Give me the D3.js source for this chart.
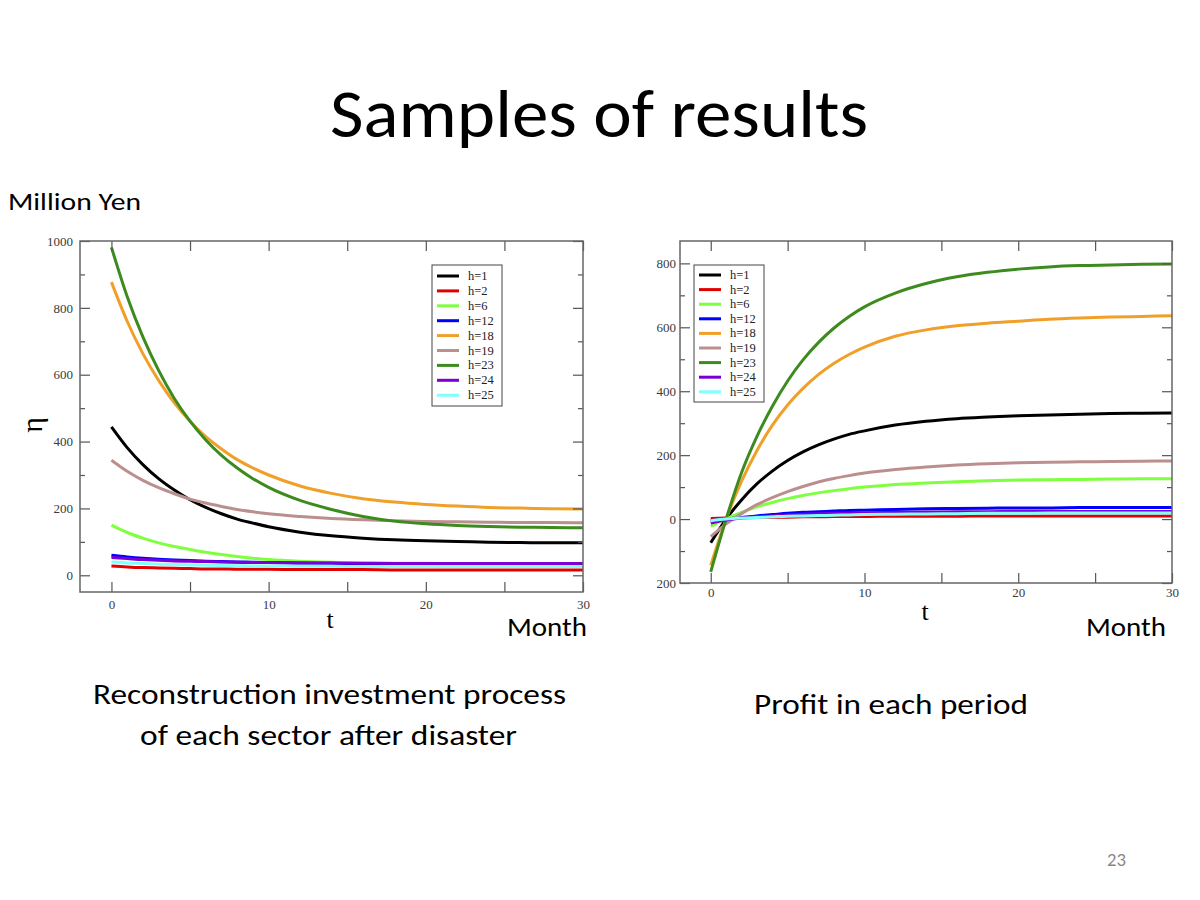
<!DOCTYPE html>
<html>
<head>
<meta charset="utf-8">
<script src="https://cdn.jsdelivr.net/npm/d3@7"></script>
<style>
  html, body { margin: 0; padding: 0; background: #fff; }
  svg { display: block; }
</style>
</head>
<body>
<svg id="slide" width="1200" height="900"></svg>
<script>
// ---------------- DATA ----------------
const tSteps = [0,1,2,3,4,5,6,7,8,9,10,12,14,16,18,20,22,24,26,28,30];
const sectors = ["h=1","h=2","h=6","h=12","h=18","h=19","h=23","h=24","h=25"];
const sectorColors = ["#000000","#e00000","#80ff40","#0000ff","#f0a028","#bc8f8f","#3d8b1f","#7a00d6","#80ffff"];

// Left chart: reconstruction investment eta (Million Yen)
const invest_h1  = [444,382,331,289,255,226,203,184,168,156,145,129,118,111,106,103,101,99,98,97,97];
const invest_h2  = [28,25,23,22,21,20,19,19,18,18,18,17,17,17,16,16,16,16,16,16,16];
const invest_h6  = [150,128,111,97,86,77,69,62,56,51,47,42,39,37,36,36,35,35,35,35,35];
const invest_h12 = [60,55,51,48,46,44,42,41,40,39,38,37,36,35,35,35,35,35,35,35,35];
const invest_h18 = [877,760,663,583,516,461,415,378,346,321,300,267,245,229,219,212,207,203,201,199,198];
const invest_h19 = [344,311,284,262,244,228,216,206,197,190,184,176,170,166,163,161,160,159,158,158,157];
const invest_h23 = [981,834,713,613,529,461,405,359,321,289,263,224,197,176,162,154,149,146,144,143,142];
const invest_h24 = [53,50,47,45,43,42,41,40,39,38,38,37,36.5,36,35.5,35.5,35.5,35.5,35.5,35.5,35.5];
const invest_h25 = [40,37,35,33,32,31,30,29,28.5,28,28,27,27,26,26,26,26,26,26,26,26];

// Right chart: profit in each period
const profit_h1  = [-74,0,60,110,150,183,210,232,250,265,276,294,306,314,319,323,326,328,330,331,332];
const profit_h2  = [2,3,4,5,6,6,7,7,8,8,8,9,9,9,10,10,10,10,10,10,10];
const profit_h6  = [-23,1,21,38,52,64,74,82,89,95,100,108,113,117,120,122,123,124,125,126,126];
const profit_h12 = [-5,0,5,10,14,18,21,23,25,27,28,30,32,33,34,35,35,36,36,36,36];
const profit_h18 = [-145,0,118,214,293,357,409,452,487,515,538,572,592,605,613,619,625,629,632,634,636];
const profit_h19 = [-55,-15,17,45,67,86,102,116,127,136,144,155,163,169,173,176,178,179,180,181,182];
const profit_h23 = [-165,0,145,258,352,432,498,552,597,634,664,707,737,758,772,782,789,793,795,797,798];
const profit_h24 = [-12,-3,3,7,10,13,15,17,18,19,20,21,22,23,23,24,24,24,24,24,24];
const profit_h25 = [-5,0,3,5,7,9,10,11,12,13,14,15,16,17,18,18,19,19,19,19,19];

const leftYTicks = [0,200,400,600,800,1000];
const leftYMinor = [100,300,500,700,900];
const rightYTicks = [-200,0,200,400,600,800];
const rightYTickLabels = ["200","0","200","400","600","800"];
const rightYMinor = [-100,100,300,500,700];
const xTicks = [0,10,20,30];
const xMinor = [5,15,25];

const investSeries = [invest_h1,invest_h2,invest_h6,invest_h12,invest_h18,invest_h19,invest_h23,invest_h24,invest_h25];
const profitSeries = [profit_h1,profit_h2,profit_h6,profit_h12,profit_h18,profit_h19,profit_h23,profit_h24,profit_h25];

// ---------------- DRAW ----------------
const svg = d3.select("#slide");
const sansFont = "Carlito, 'Open Sans', 'Noto Sans', sans-serif";
const serifFont = "'Liberation Serif', 'DejaVu Serif', serif";

function addText(x, y, str, size, opts = {}) {
  const t = svg.append("text")
    .attr("x", x).attr("y", y)
    .attr("font-family", opts.family || sansFont)
    .attr("font-size", size)
    .attr("fill", opts.fill || "#000")
    .attr("text-anchor", opts.anchor || "start")
    .text(str);
  if (opts.len) t.attr("textLength", opts.len).attr("lengthAdjust", "spacingAndGlyphs");
  if (opts.transform) t.attr("transform", opts.transform);
  return t;
}

addText(330, 137, "Samples of results", 68, {len: 538});
addText(8, 210, "Million Yen", 25, {len: 133});

function drawChart(cfg) {
  const x = d3.scaleLinear().domain([-2, 30]).range([cfg.left, cfg.right]);
  const y = d3.scaleLinear().domain(cfg.yDomain).range([cfg.bottom, cfg.top]);
  const g = svg.append("g");

  const clipId = "clip" + cfg.id;
  svg.append("clipPath").attr("id", clipId).append("rect")
    .attr("x", cfg.left).attr("y", cfg.top)
    .attr("width", cfg.right - cfg.left).attr("height", cfg.bottom - cfg.top);

  const line = d3.line().x((d, i) => x(tSteps[i])).y(d => y(d)).curve(d3.curveMonotoneX);
  const lines = g.append("g").attr("clip-path", `url(#${clipId})`);
  cfg.series.forEach((s, i) => {
    lines.append("path").datum(s)
      .attr("d", line)
      .attr("fill", "none")
      .attr("stroke", sectorColors[i])
      .attr("stroke-width", 3)
      .attr("stroke-linejoin", "round");
  });

  const tickColor = "#555";
  const styleAxis = sel => {
    sel.select(".domain").remove();
    sel.selectAll(".tick line").attr("stroke", tickColor).attr("stroke-width", 1.2);
    sel.selectAll(".tick text").attr("font-family", serifFont).attr("font-size", 13)
      .attr("fill", "#3a3a3a").style("fill", "#3a3a3a");
  };
  const fmtY = cfg.yLabels ? (d => cfg.yLabels[cfg.yTicks.indexOf(d)]) : d3.format("d");

  g.append("g").attr("transform", `translate(${cfg.left},0)`)
    .call(d3.axisLeft(y).tickValues(cfg.yTicks).tickSize(-10).tickPadding(cfg.yPad).tickFormat(fmtY)).call(styleAxis);
  g.append("g").attr("transform", `translate(${cfg.left},0)`)
    .call(d3.axisLeft(y).tickValues(cfg.yMinor).tickSize(-5).tickFormat("")).call(styleAxis);
  g.append("g").attr("transform", `translate(${cfg.right},0)`)
    .call(d3.axisRight(y).tickValues(cfg.yTicks).tickSize(-10).tickFormat("")).call(styleAxis);
  g.append("g").attr("transform", `translate(${cfg.right},0)`)
    .call(d3.axisRight(y).tickValues(cfg.yMinor).tickSize(-5).tickFormat("")).call(styleAxis);

  g.append("g").attr("transform", `translate(0,${cfg.bottom})`)
    .call(d3.axisBottom(x).tickValues(xTicks).tickSize(-10).tickPadding(cfg.xPad).tickFormat(d3.format("d"))).call(styleAxis);
  g.append("g").attr("transform", `translate(0,${cfg.bottom})`)
    .call(d3.axisBottom(x).tickValues(xMinor).tickSize(-10).tickFormat("")).call(styleAxis);
  g.append("g").attr("transform", `translate(0,${cfg.top})`)
    .call(d3.axisTop(x).tickValues(xTicks.concat(xMinor)).tickSize(-10).tickFormat("")).call(styleAxis);

  g.append("rect")
    .attr("x", cfg.left).attr("y", cfg.top)
    .attr("width", cfg.right - cfg.left).attr("height", cfg.bottom - cfg.top)
    .attr("fill", "none").attr("stroke", "#666").attr("stroke-width", 1.5);

  // legend
  const lg = g.append("g");
  lg.append("rect")
    .attr("x", cfg.legend.x).attr("y", cfg.legend.y)
    .attr("width", cfg.legend.w).attr("height", cfg.legend.h)
    .attr("fill", "#fff").attr("stroke", "#444").attr("stroke-width", 1);
  sectors.forEach((name, i) => {
    const yy = cfg.legend.y0 + i * cfg.legend.dy;
    lg.append("line")
      .attr("x1", cfg.legend.x + 5).attr("x2", cfg.legend.x + 27)
      .attr("y1", yy).attr("y2", yy)
      .attr("stroke", sectorColors[i]).attr("stroke-width", 3);
    lg.append("text")
      .attr("x", cfg.legend.x + 36).attr("y", yy + 4)
      .attr("font-family", serifFont).attr("font-size", 12.5).attr("fill", "#222")
      .text(name);
  });
}

drawChart({
  id: "L", left: 80, right: 583, top: 241, bottom: 592,
  yDomain: [-50, 1000], yTicks: leftYTicks, yMinor: leftYMinor, yPad: 7, xPad: 8,
  series: investSeries,
  legend: {x: 432, y: 265, w: 70, h: 141, y0: 276, dy: 14.9}
});
drawChart({
  id: "R", left: 680, right: 1172, top: 241, bottom: 583,
  yDomain: [-200, 870], yTicks: rightYTicks, yMinor: rightYMinor, yLabels: rightYTickLabels, yPad: 4, xPad: 5,
  series: profitSeries,
  legend: {x: 694, y: 265, w: 70, h: 137, y0: 275, dy: 14.6}
});

// axis titles
addText(330, 628, "t", 26, {family: serifFont, anchor: "middle"});
addText(925, 620, "t", 26, {family: serifFont, anchor: "middle"});
addText(0, 0, "η", 30, {family: serifFont, anchor: "middle", transform: "translate(42,425) rotate(-90)"});
addText(507, 636, "Month", 27, {len: 80});
addText(1086, 636, "Month", 27, {len: 80});

// captions
addText(93, 704, "Reconstruction investment process", 29, {len: 473});
addText(140, 745, "of each sector after disaster", 29, {len: 377});
addText(754, 714, "Profit in each period", 29, {len: 274});
addText(1107, 866, "23", 18, {fill: "#888", len: 19});
</script>
</body>
</html>
